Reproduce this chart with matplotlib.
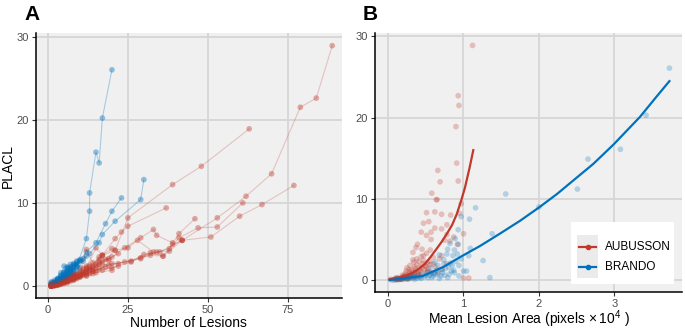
import matplotlib
matplotlib.use('Agg')
import matplotlib.pyplot as plt
from matplotlib.patches import Rectangle
from matplotlib.lines import Line2D

plt.rcParams['font.family'] = ['Liberation Sans', 'DejaVu Sans']
plt.rcParams['mathtext.fontset'] = 'custom'
plt.rcParams['mathtext.rm'] = 'Liberation Sans'

RED = '#C0392B'
BLUE = '#0072BD'

# Panel A: lesion counts vs PLACL, one list per leaf trajectory
aub_lesions = [
    [1, 3, 5, 8, 12, 16, 20, 26, 30, 35, 42, 53, 62, 70, 79, 84, 89],
    [1, 2, 4, 7, 10, 14, 19, 24, 29, 32, 36, 42, 51, 60, 67, 77],
    [1, 2, 4, 6, 9, 12, 15, 18, 21, 25, 39, 48, 63],
    [2, 3, 6, 9, 13, 17, 22, 29, 34, 38, 41, 47, 53, 61],
    [1, 3, 5, 8, 11, 14, 17, 21, 23, 25, 37],
    [1, 2, 4, 7, 10, 13, 16, 20, 24, 29, 33, 34, 39, 41, 46],
    [1, 2, 5, 8, 12, 15, 20, 26, 32, 36, 39, 42],
    [1, 3, 6, 9, 12, 17, 21, 25, 28, 33, 38],
    [1, 2, 3, 5, 7, 9, 12, 15, 17, 20],
    [1, 2, 4, 6, 8, 11, 13, 16, 19],
    [1, 2, 3, 5, 7, 10, 12, 14],
    [1, 2, 3, 4, 6, 8, 10, 13],
    [1, 2, 4, 5, 7, 9, 11, 14, 18],
    [2, 3, 5, 7, 9, 12, 15, 20],
    [1, 3, 4, 6, 8, 10, 14, 17, 22],
    [1, 2, 3, 5, 6, 8, 11, 13, 16],
    [2, 4, 6, 8, 10, 12, 15, 17],
    [1, 2, 4, 5, 8, 10, 12],
    [3, 5, 7, 9, 11, 14, 16, 19, 22],
]
aub_placl = [
    [0.0, 0.2, 0.5, 0.9, 1.5, 2.1, 2.7, 3.0, 3.8, 4.1, 5.5, 8.2, 10.8, 13.5, 21.5, 22.6, 28.9],
    [0.1, 0.2, 0.4, 0.8, 1.2, 1.8, 2.5, 2.9, 3.3, 3.7, 3.6, 5.5, 5.9, 8.4, 9.8, 12.1],
    [0.0, 0.1, 0.3, 0.6, 1.1, 1.7, 2.4, 3.2, 4.3, 8.2, 12.2, 14.4, 18.9],
    [0.1, 0.3, 0.6, 1.1, 1.9, 2.6, 2.7, 3.4, 4.1, 4.5, 5.8, 7.0, 7.1, 10.0],
    [0.1, 0.3, 0.6, 1.0, 1.6, 2.3, 3.7, 5.7, 6.5, 7.2, 9.4],
    [0.0, 0.2, 0.4, 0.9, 1.4, 2.0, 2.6, 3.5, 4.6, 5.8, 6.8, 6.1, 5.2, 6.3, 8.1],
    [0.0, 0.1, 0.4, 0.8, 1.3, 1.9, 2.2, 2.9, 4.0, 3.6, 5.0, 5.5],
    [0.1, 0.3, 0.7, 1.2, 1.8, 3.7, 4.3, 4.6, 5.5, 4.1, 4.2],
    [0.0, 0.1, 0.3, 0.6, 1.0, 1.4, 2.2, 4.6, 3.7, 4.5],
    [0.0, 0.2, 0.4, 0.7, 1.2, 1.6, 2.3, 3.5, 3.1],
    [0.0, 0.1, 0.2, 0.5, 0.9, 1.5, 4.4, 2.8],
    [0.0, 0.1, 0.2, 0.3, 0.5, 0.8, 1.1, 1.5],
    [0.1, 0.2, 0.3, 0.5, 0.7, 1.0, 1.3, 1.8, 2.3],
    [0.0, 0.1, 0.3, 0.6, 0.9, 1.2, 1.6, 1.9],
    [0.0, 0.1, 0.2, 0.4, 0.7, 1.1, 1.5, 1.9, 2.4],
    [0.1, 0.3, 0.5, 0.8, 1.0, 1.4, 2.1, 2.5, 3.2],
    [0.1, 0.3, 0.6, 1.0, 1.3, 2.0, 2.6, 3.0],
    [0.0, 0.2, 0.5, 0.7, 1.3, 1.9, 2.4],
    [0.2, 0.5, 0.8, 1.3, 1.7, 2.1, 2.9, 3.3, 3.9],
]
bra_lesions = [
    [1, 2, 3, 5, 7, 9, 12, 13, 13, 15, 16, 17, 20],
    [1, 2, 4, 6, 8, 10, 12, 15, 18, 20, 23],
    [1, 3, 5, 7, 9, 11, 13, 16, 17, 21, 29, 30],
    [1, 2, 3, 4, 5, 6, 8],
    [1, 2, 4, 5, 7, 8, 10],
    [1, 3, 4, 6, 7, 9],
    [2, 3, 5, 6, 8, 10],
    [1, 2, 3, 5, 6, 9, 11],
    [1, 2, 4, 5, 6, 7],
    [2, 3, 4, 5, 7],
    [1, 2, 3, 4, 6, 7],
    [1, 2, 3, 4, 5, 6, 8, 9],
    [2, 3, 4, 5, 6],
    [1, 2, 3, 5, 7, 8],
    [1, 3, 4, 5, 6, 8, 10],
    [1, 2, 4, 6, 7],
    [3, 4, 6, 8, 9, 12],
]
bra_placl = [
    [0.1, 0.3, 0.5, 0.9, 1.6, 2.4, 5.7, 9.0, 11.2, 16.1, 14.8, 20.2, 26.0],
    [0.1, 0.3, 0.7, 1.2, 2.0, 3.0, 4.1, 5.2, 7.5, 9.0, 10.6],
    [0.2, 0.5, 1.0, 1.6, 2.4, 3.3, 3.9, 5.2, 6.2, 7.8, 10.4, 12.8],
    [0.1, 0.2, 0.4, 0.6, 0.9, 1.2, 1.9],
    [0.2, 0.4, 0.8, 1.1, 1.8, 2.2, 3.2],
    [0.1, 0.5, 0.8, 1.5, 2.0, 2.9],
    [0.3, 0.6, 1.3, 1.7, 2.5, 3.1],
    [0.3, 0.5, 0.9, 1.6, 2.3, 2.6, 3.0],
    [0.0, 0.2, 0.5, 0.7, 1.0, 1.4],
    [0.5, 0.8, 1.2, 2.4, 2.3],
    [0.2, 0.4, 0.7, 1.0, 1.6, 2.1],
    [0.0, 0.3, 0.6, 0.9, 1.4, 1.8, 2.6, 3.0],
    [0.2, 0.4, 0.6, 1.0, 1.3],
    [0.1, 0.2, 0.3, 0.6, 1.2, 1.5],
    [0.4, 0.9, 1.3, 1.7, 2.0, 2.7, 2.2],
    [0.5, 0.7, 1.6, 2.2, 2.6],
    [0.3, 0.5, 0.9, 1.4, 1.9, 3.6],
]

# Panel B: mean lesion area (pixels x 1e4) vs PLACL
aub_area = [1.12, 0.93, 0.94, 0.90, 0.91, 0.66, 0.69, 0.93, 0.58, 0.64, 0.65, 0.97,
            0.51, 0.62, 0.71, 0.95, 0.83, 0.54, 0.47, 0.78, 1.00, 0.44, 0.57, 0.51,
            0.57, 0.62, 0.71, 0.78, 0.87, 0.75, 0.82, 0.92, 0.39, 0.37, 0.33, 0.45,
            0.51, 0.56, 0.44, 0.60, 0.71, 0.29, 0.38, 0.49, 0.60, 0.78, 0.29, 0.42,
            0.51, 0.66, 0.20, 0.11, 0.03, 0.33, 1.00, 1.07, 0.15, 0.18, 0.22, 0.25,
            0.27, 0.30, 0.35, 0.36, 0.40, 0.45, 0.24, 0.33, 0.41, 0.47, 0.53, 0.55,
            0.63, 0.68, 0.72, 0.12, 0.08, 0.17, 0.21, 0.26,
            0.10, 0.13, 0.16, 0.19, 0.22, 0.24, 0.27, 0.30, 0.32, 0.34, 0.37, 0.39,
            0.42, 0.44, 0.46, 0.48, 0.50, 0.53, 0.56, 0.58, 0.14, 0.18, 0.21, 0.23,
            0.28, 0.31, 0.35, 0.38, 0.43, 0.47, 0.52, 0.26, 0.29, 0.36, 0.40, 0.09,
            0.12, 0.19, 0.25, 0.34]
aub_area_placl = [28.9, 22.7, 21.5, 18.9, 14.4, 13.5, 12.1, 12.2, 10.7, 9.9, 9.9, 9.4,
                  8.3, 8.4, 8.1, 8.2, 8.0, 7.2, 7.0, 6.8, 5.7, 5.9, 5.9, 5.5,
                  5.0, 6.4, 6.3, 5.6, 5.3, 4.9, 4.8, 4.4, 4.4, 4.0, 3.4, 3.8,
                  3.3, 3.7, 2.9, 2.8, 3.0, 1.8, 1.9, 1.8, 2.0, 2.0, 1.0, 1.2,
                  1.0, 0.8, 0.4, 0.2, 0.1, 0.3, 0.25, 0.25, 0.1, 0.3, 0.2, 0.6,
                  0.4, 0.7, 0.9, 1.4, 0.6, 1.5, 1.1, 2.5, 2.3, 2.4, 1.4, 2.3,
                  1.6, 2.6, 1.3, 0.05, 0.0, 0.15, 0.5, 0.25,
                  0.1, 0.2, 0.1, 0.3, 0.4, 0.2, 0.6, 0.5, 0.9, 0.7, 1.1, 0.8,
                  1.6, 1.0, 2.0, 1.3, 1.7, 1.1, 1.9, 0.9, 0.05, 0.1, 0.3, 0.8,
                  1.3, 1.2, 1.6, 2.6, 0.5, 3.0, 2.1, 0.1, 0.2, 0.4, 1.0, 0.2,
                  0.3, 0.6, 1.5, 2.2]
bra_area = [3.73, 3.42, 3.08, 2.65, 2.51, 2.00, 1.56, 1.16, 1.08, 0.97, 0.93, 1.38,
            0.89, 0.93, 0.82, 0.79, 0.88, 1.09, 1.07, 0.86, 0.92, 0.78, 0.74, 0.68,
            1.26, 1.00, 1.04, 0.84, 0.94, 1.35, 0.79, 0.70, 0.61, 0.48, 0.38, 0.20,
            0.29, 0.56, 0.66, 0.94, 0.85, 0.10, 0.15, 0.25, 0.33, 0.42, 0.52, 0.58,
            0.64, 0.72, 0.76, 0.81, 0.88, 0.90, 0.97, 0.45, 0.35, 0.55, 0.68, 0.74,
            0.62, 0.05, 0.12, 0.18, 0.22, 0.27, 0.31, 0.36, 0.40, 0.44, 0.50, 0.53,
            0.57, 0.60, 0.63, 0.66, 0.71, 0.75, 0.80, 0.83, 0.87]
bra_area_placl = [26.1, 20.3, 16.1, 14.9, 11.2, 9.0, 10.6, 8.9, 7.5, 7.8, 6.2, 5.7,
                  5.1, 4.4, 4.5, 3.8, 3.7, 3.9, 3.0, 3.0, 3.2, 3.2, 2.5, 3.1,
                  2.4, 1.1, 1.1, 1.1, 0.5, 0.3, 0.3, 0.5, 0.8, 0.4, 0.2, 0.1,
                  0.4, 1.5, 1.8, 1.8, 1.8, 0.05, 0.2, 0.15, 0.5, 0.3, 0.9, 0.3,
                  1.2, 0.9, 1.4, 0.7, 0.9, 2.3, 2.6, 0.7, 0.1, 0.6, 0.2, 2.0,
                  2.2, 0.0, 0.1, 0.1, 0.3, 0.2, 0.3, 0.4, 0.5, 0.2, 0.6, 0.3,
                  0.9, 0.5, 0.7, 1.0, 1.3, 0.6, 1.6, 2.1, 1.2]

# smoothed fits
aub_fit_area = [0.02, 0.20, 0.33, 0.41, 0.49, 0.56, 0.64, 0.71, 0.78, 0.85, 0.91,
                0.97, 1.02, 1.08, 1.13]
aub_fit_placl = [0.1, 0.4, 0.9, 1.4, 2.0, 2.8, 3.8, 4.7, 5.7, 6.8, 8.1,
                 9.8, 11.4, 13.8, 16.0]
bra_fit_area = [0.02, 0.46, 0.73, 0.95, 1.22, 1.48, 1.75, 2.01, 2.24, 2.46, 2.72,
                2.99, 3.34, 3.56, 3.73]
bra_fit_placl = [0.0, 0.5, 1.6, 2.8, 4.2, 5.7, 7.3, 9.0, 10.6, 12.3, 14.3,
                 16.7, 20.1, 22.6, 24.5]

fig = plt.figure(figsize=(6.85, 3.32), dpi=100)
axA = fig.add_axes([0.052, 0.102, 0.447, 0.798])
axB = fig.add_axes([0.547, 0.121, 0.449, 0.779])


def style(ax):
    ax.set_facecolor('#f0f0f0')
    for s in ['top', 'right']:
        ax.spines[s].set_visible(False)
    for s in ['left', 'bottom']:
        ax.spines[s].set_linewidth(1.1)
        ax.spines[s].set_color('black')
    ax.grid(True, color='#d6d6d6', linewidth=1.3)
    ax.set_axisbelow(True)
    ax.tick_params(length=3, width=0.8, color='#333333', labelsize=8,
                   labelcolor='#4d4d4d', pad=2)


# --- panel A
style(axA)
for xs, ys in zip(bra_lesions, bra_placl):
    axA.plot(xs, ys, color=BLUE, alpha=0.3, lw=0.8)
    axA.scatter(xs, ys, color=BLUE, alpha=0.4, s=17, edgecolors='none')
for xs, ys in zip(aub_lesions, aub_placl):
    axA.plot(xs, ys, color=RED, alpha=0.25, lw=0.8)
    axA.scatter(xs, ys, color=RED, alpha=0.4, s=17, edgecolors='none')
axA.set_xlim(-3.9, 92)
axA.set_ylim(-1.45, 30.4)
axA.set_xticks([0, 25, 50, 75])
axA.set_yticks([0, 10, 20, 30])
axA.set_xlabel('Number of Lesions', fontsize=10, labelpad=1)
axA.set_ylabel('PLACL', fontsize=10, labelpad=1)

# --- panel B
style(axB)
axB.scatter(aub_area, aub_area_placl, color=RED, alpha=0.28, s=17, edgecolors='none')
axB.scatter(bra_area, bra_area_placl, color=BLUE, alpha=0.25, s=17, edgecolors='none')
axB.plot(aub_fit_area, aub_fit_placl, color=RED, lw=1.6)
axB.plot(bra_fit_area, bra_fit_placl, color=BLUE, lw=1.6)
axB.set_xlim(-0.177, 3.9)
axB.set_ylim(-1.45, 30.4)
axB.set_xticks([0, 1, 2, 3])
axB.set_yticks([0, 10, 20, 30])
axB.set_xlabel(r'Mean Lesion Area (pixels $\times\,10^4$ )', fontsize=10, labelpad=0)

# legend drawn by hand (ggplot style key background)
axB.add_patch(Rectangle((0.638, 0.032), 0.334, 0.239, transform=axB.transAxes,
                        facecolor='white', edgecolor='none', zorder=5))
axB.add_patch(Rectangle((0.657, 0.054), 0.070, 0.165, transform=axB.transAxes,
                        facecolor='#ebebeb', edgecolor='none', zorder=6))
for yy, col, lab in [(0.174, RED, 'AUBUSSON'), (0.097, BLUE, 'BRANDO')]:
    axB.add_line(Line2D([0.664, 0.720], [yy, yy], transform=axB.transAxes,
                        color=col, lw=1.6, zorder=7))
    axB.add_line(Line2D([0.692], [yy], transform=axB.transAxes, marker='o',
                        markersize=3, color=col, zorder=7))
    axB.text(0.749, yy, lab, transform=axB.transAxes, fontsize=8.5,
             va='center', ha='left', zorder=7)

fig.text(0.036, 0.955, 'A', fontsize=15, fontweight='bold', ha='left', va='center')
fig.text(0.530, 0.955, 'B', fontsize=15, fontweight='bold', ha='left', va='center')

fig.savefig('out.png', dpi=100)
